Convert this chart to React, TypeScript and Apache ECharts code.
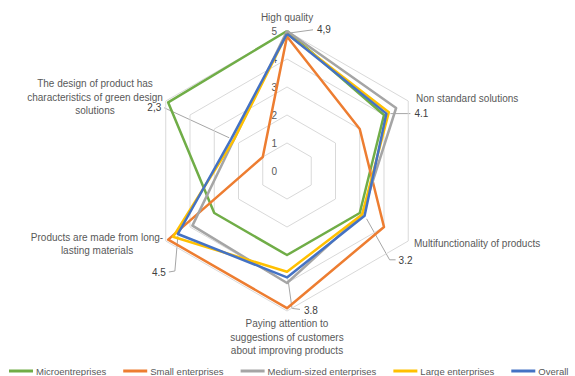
import React, { useEffect, useRef } from "react";
import * as echarts from "echarts";

const indicators = [
  "High quality",
  "Non standard solutions",
  "Multifunctionality of products",
  "Paying attention to suggestions of customers about improving products",
  "Products are made from long-lasting materials",
  "The design of product has characteristics of green design solutions",
];
const seriesNames = [
  "Microentreprises",
  "Small enterprises",
  "Medium-sized enterprises",
  "Large enterprises",
  "Overall",
];
const seriesColors = ["#70AD47", "#ED7D31", "#A5A5A5", "#FFC000", "#4472C4"];
// values in clockwise order starting at the top axis
const micro = [5.0, 4.0, 3.0, 3.0, 3.0, 4.9];
const small = [4.8, 3.0, 4.0, 4.9, 4.9, 1.0];
const medium = [5.0, 4.5, 3.1, 4.0, 3.9, 2.2];
const large = [4.9, 4.2, 3.1, 3.6, 4.7, 2.2];
const overall = [4.9, 4.1, 3.2, 3.8, 4.5, 2.3];
const overallLabels = ["4,9", "4.1", "3.2", "3.8", "4.5", "2,3"];
const tickLabels = ["0", "1", "2", "3", "4", "5"];
const maxValue = 5;

const CX = 287;
const CY = 171;
const R = 140;
const FONT = "'Liberation Sans', Arial, sans-serif";
const TEXT = "#595959";

// ECharts radar places indicators counter-clockwise; reorder so display is clockwise
const ccwIndex = [0, 5, 4, 3, 2, 1];
const toCCW = (arr: any[]) => ccwIndex.map((i) => arr[i]);

function pointAt(i: number, v: number) {
  const a = ((90 - 60 * i) * Math.PI) / 180;
  const r = (v / maxValue) * R;
  return [CX + r * Math.cos(a), CY - r * Math.sin(a)];
}

// label offsets from the data point: leader bend/end, text anchor
const labelCfg = [
  { path: [[4, -1], [26, -4]], text: [30, -4], align: "left" },
  { path: [[4, 0], [24, 0]], text: [28, 0], align: "left" },
  { path: [[2, 3], [25, 44], [31, 44]], text: [34, 45], align: "left" },
  { path: [[1, 2], [5, 31], [13, 32]], text: [17, 33], align: "left" },
  { path: [[0, 2], [-3, 37], [-9, 38]], text: [-12, 38], align: "right" },
  { path: [[-2, -1], [-67, -31]], text: [-70, -31], align: "right" },
];

const axisNames = [
  { text: "High quality", x: 287, y: 17, align: "center" },
  { text: "Non standard solutions", x: 416, y: 98, align: "left" },
  { text: "Multifunctionality of products", x: 414, y: 243, align: "left" },
  {
    text: "Paying attention to\nsuggestions of customers\nabout improving products",
    x: 287,
    y: 337,
    align: "center",
  },
  { text: "Products are made from long-\nlasting materials", x: 97, y: 244, align: "center" },
  {
    text: "The design of product has\ncharacteristics of green design\nsolutions",
    x: 95,
    y: 97,
    align: "center",
  },
];

export default function App() {
  const ref = useRef<HTMLDivElement>(null);
  useEffect(() => {
    if (!ref.current) return;
    const chart = echarts.init(ref.current, null, { renderer: "svg" });
    const data = [micro, small, medium, large, overall];

    const graphics: any[] = [];
    axisNames.forEach((n) => {
      graphics.push({
        type: "text",
        x: n.x,
        y: n.y,
        z: 10,
        style: {
          text: n.text,
          fill: TEXT,
          fontSize: 10,
          fontFamily: FONT,
          align: n.align,
          verticalAlign: "middle",
          lineHeight: 13.5,
        },
      });
    });
    overall.forEach((v, i) => {
      const [px, py] = pointAt(i, v);
      const cfg = labelCfg[i];
      const pts = [[px + cfg.path[0][0], py + cfg.path[0][1]]];
      for (let k = 1; k < cfg.path.length; k++) pts.push([px + cfg.path[k][0], py + cfg.path[k][1]]);
      graphics.push({
        type: "polyline",
        z: 0,
        shape: { points: pts },
        style: { stroke: "#A6A6A6", lineWidth: 1, fill: null },
      });
      graphics.push({
        type: "text",
        x: px + cfg.text[0],
        y: py + cfg.text[1],
        z: 10,
        style: {
          text: overallLabels[i],
          fill: "#404040",
          fontSize: 10,
          fontFamily: FONT,
          align: cfg.align,
          verticalAlign: "middle",
        },
      });
    });

    chart.setOption({
      animation: false,
      backgroundColor: "#ffffff",
      color: seriesColors,
      legend: {
        top: 366,
        left: 9,
        width: 566,
        padding: 0,
        icon: "rect",
        itemWidth: 24,
        itemHeight: 3,
        itemGap: 17,
        textStyle: { color: TEXT, fontSize: 9.5, fontFamily: FONT, padding: [0, 0, 0, -2] },
        data: seriesNames,
      },
      radar: {
        center: [CX, CY],
        radius: R,
        startAngle: 90,
        splitNumber: 5,
        shape: "polygon",
        indicator: toCCW(indicators).map((name) => ({ name, min: 0, max: maxValue })),
        axisName: { show: false },
        axisLine: { show: false },
        axisTick: { show: false },
        axisLabel: { show: false },
        splitArea: { show: false },
        splitLine: { lineStyle: { color: "#D9D9D9", width: 1 } },
      },
      polar: { center: [CX, CY], radius: R },
      angleAxis: { show: false, startAngle: 90, min: 0, max: 360 },
      radiusAxis: {
        type: "value",
        min: 0,
        max: maxValue,
        interval: 1,
        axisLine: { show: false },
        axisTick: { show: false },
        splitLine: { show: false },
        axisLabel: {
          color: TEXT,
          fontSize: 10,
          fontFamily: FONT,
          margin: 10,
          formatter: (v: number) => tickLabels[Math.round(v)] ?? String(v),
        },
      },
      graphic: graphics,
      series: data.map((d, i) => ({
        type: "radar",
        name: seriesNames[i],
        symbol: "none",
        z: 2 + i,
        lineStyle: { width: 2.5, color: seriesColors[i] },
        itemStyle: { color: seriesColors[i] },
        data: [{ value: toCCW(d), name: seriesNames[i] }],
      })),
    });
    return () => chart.dispose();
  }, []);
  return (
    <div
      ref={ref}
      style={{ position: "fixed", left: 0, top: 0, width: 575, height: 376 }}
    />
  );
}
